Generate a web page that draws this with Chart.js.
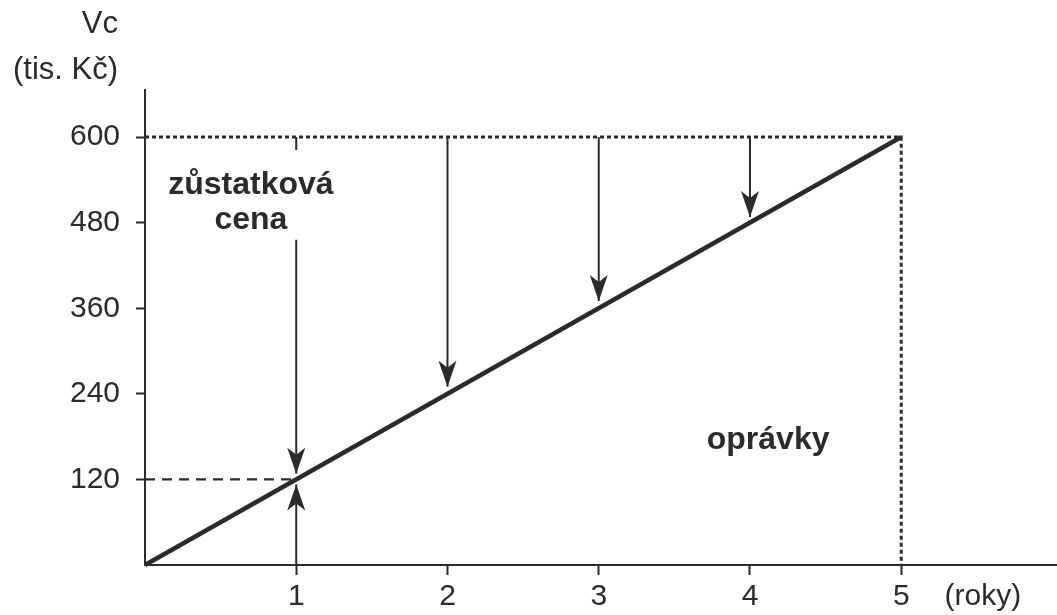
<!DOCTYPE html>
<html>
<head>
<meta charset="utf-8">
<script src="https://cdn.jsdelivr.net/npm/chart.js@4.4.1/dist/chart.umd.min.js"></script>
<style>
  html, body { margin: 0; padding: 0; background: #fff; }
  #wrap { width: 1057px; height: 615px; }
</style>
</head>
<body>
<div id="wrap"><canvas id="chart"></canvas></div>
<script>
// years on the x axis and the value ticks on the y axis
const years = [1, 2, 3, 4, 5]
const yTicks = [120, 240, 360, 480, 600]
const unitPos = 5.54
const unitLabel = '(roky)'

// residual value line (0 -> 600 over 5 years)
const lineX = [0, 5]
const lineY = [0, 600]

// dotted frame at 600 and year 5
const frameX = [0, 5, 5]
const frameY = [600, 600, 0]

// dashed helper at 120
const dashX = [0, 1]
const dashY = [120, 120]

// arrows: x position, start value, tip value
const arrowX = [1, 1, 2, 3, 4]
const arrowFrom = [456, 0, 600, 600, 600]
const arrowTo = [128, 113, 250, 370, 488]

// small stub under the dotted line at year 1
const stubX = [1, 1]
const stubY = [600, 582]

// labels inside the plot
const notes = [
  { text: 'zůstatková', x: 0.7, y: 533 },
  { text: 'cena', x: 0.7, y: 484 },
  { text: 'oprávky', x: 4.12, y: 175 },
]
const axisTitle = ['Vc', '(tis. Kč)']

const ink = '#2b2b2b'
const font = "'Liberation Sans', Arial, sans-serif"

const pts = (xs, ys) => xs.map((x, i) => ({ x, y: ys[i] }))

const datasets = [
  { data: pts(frameX, frameY), borderColor: ink, borderWidth: 3, borderDash: [4, 3] },
  { data: pts(dashX, dashY), borderColor: ink, borderWidth: 2.2, borderDash: [10, 7] },
  { data: pts(stubX, stubY), borderColor: ink, borderWidth: 2 },
  { data: pts(lineX, lineY), borderColor: ink, borderWidth: 4.5 },
]
arrowX.forEach((x, i) => {
  datasets.push({
    data: [{ x, y: arrowFrom[i] }, { x, y: arrowTo[i] }],
    borderColor: ink,
    borderWidth: 2,
    arrow: true,
  })
})
datasets.forEach(ds => {
  ds.showLine = true
  ds.pointRadius = 0
  ds.clip = false
  ds.fill = false
})

// arrowheads at the last point of arrow datasets
const arrowHeads = {
  id: 'arrowHeads',
  afterDatasetsDraw(chart) {
    const ctx = chart.ctx
    chart.data.datasets.forEach((ds, i) => {
      if (!ds.arrow) return
      const el = chart.getDatasetMeta(i).data
      const a = el[el.length - 2]
      const b = el[el.length - 1]
      const ang = Math.atan2(b.y - a.y, b.x - a.x)
      ctx.save()
      ctx.translate(b.x, b.y)
      ctx.rotate(ang)
      ctx.fillStyle = ink
      ctx.beginPath()
      ctx.moveTo(0, 0)
      ctx.lineTo(-26, -9)
      ctx.lineTo(-19, 0)
      ctx.lineTo(-26, 9)
      ctx.closePath()
      ctx.fill()
      ctx.restore()
    })
  },
}

// axis title and plot notes
const texts = {
  id: 'texts',
  afterDraw(chart) {
    const ctx = chart.ctx
    const { x, y } = chart.scales
    ctx.save()
    ctx.fillStyle = ink
    ctx.textBaseline = 'middle'
    ctx.textAlign = 'right'
    ctx.font = '31px ' + font
    ctx.fillText(axisTitle[0], 118, 24)
    ctx.fillText(axisTitle[1], 118, 70)
    ctx.textAlign = 'center'
    ctx.font = 'bold 32px ' + font
    notes.forEach(n => {
      ctx.fillText(n.text, x.getPixelForValue(n.x), y.getPixelForValue(n.y))
    })
    ctx.restore()
  },
}

new Chart(document.getElementById('chart'), {
  type: 'scatter',
  data: { datasets },
  plugins: [arrowHeads, texts],
  options: {
    responsive: true,
    maintainAspectRatio: false,
    animation: false,
    layout: { padding: { top: 90, right: 0, left: 0, bottom: 0 } },
    plugins: { legend: { display: false }, tooltip: { enabled: false } },
    scales: {
      x: {
        type: 'linear',
        min: 0,
        max: 6.03,
        afterBuildTicks: s => { s.ticks = years.concat([unitPos]).map(v => ({ value: v })) },
        afterFit: s => { s.height = 50 },
        border: { display: true, color: ink, width: 2 },
        grid: {
          drawOnChartArea: false,
          drawTicks: true,
          tickLength: 10,
          tickWidth: 2,
          tickColor: c => (c.tick && c.tick.value === unitPos ? 'rgba(0,0,0,0)' : ink),
        },
        ticks: {
          color: ink,
          padding: 4,
          autoSkip: false,
          maxRotation: 0,
          font: { size: 30, family: font },
          callback: v => (v === unitPos ? unitLabel : String(v)),
        },
      },
      y: {
        type: 'linear',
        min: 0,
        max: 666,
        afterBuildTicks: s => { s.ticks = yTicks.map(v => ({ value: v })) },
        afterFit: s => { s.width = 145 },
        border: { display: true, color: ink, width: 2 },
        grid: {
          drawOnChartArea: false,
          drawTicks: true,
          tickLength: 9,
          tickWidth: 2,
          tickColor: ink,
        },
        ticks: {
          color: ink,
          padding: 16,
          font: { size: 30, family: font },
        },
      },
    },
  },
})
</script>
</body>
</html>
